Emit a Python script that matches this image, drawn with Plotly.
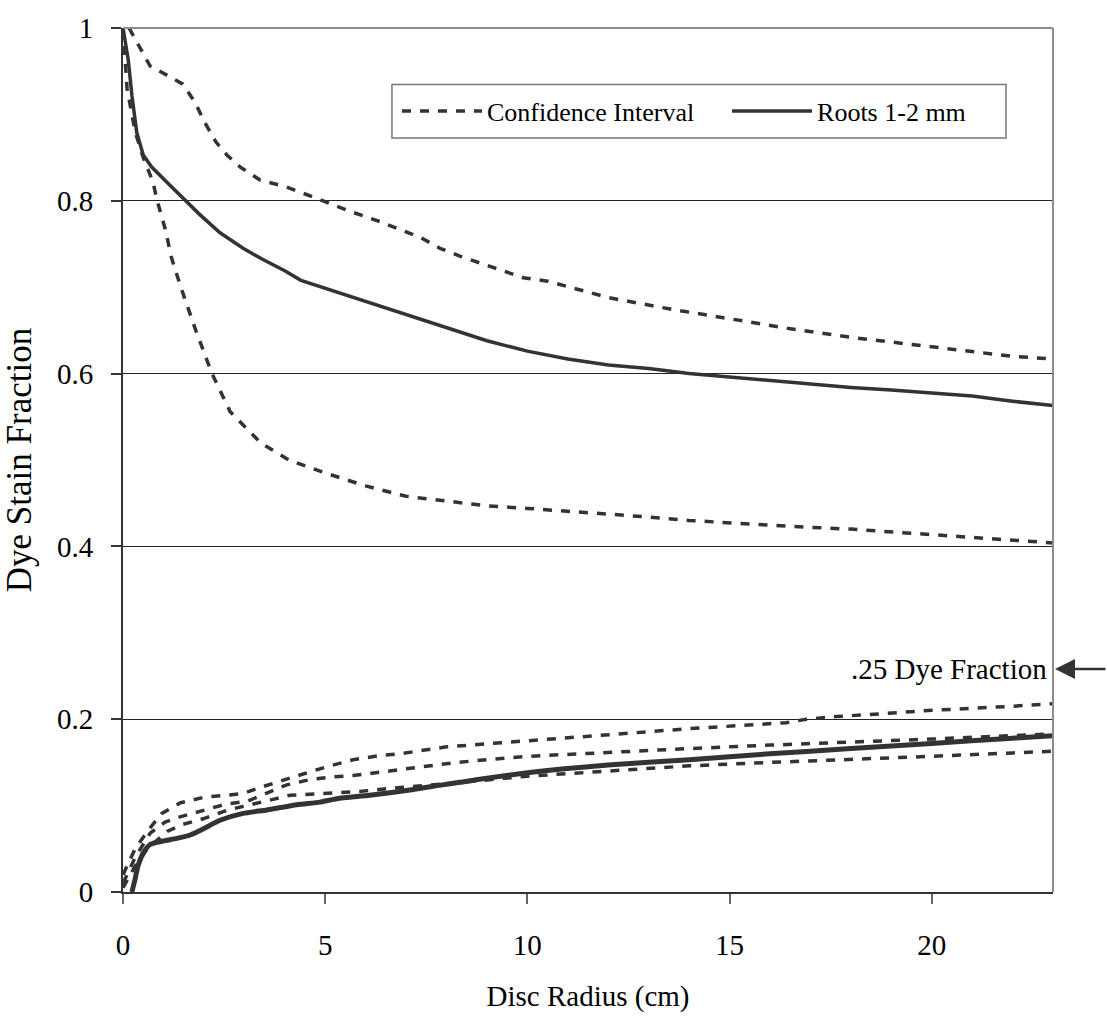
import plotly.graph_objects as go

# ---------------- data ----------------
# upper group (fraction decreasing from 1)
top_ci_hi_x = [0.15, 0.67, 1.1, 1.48, 1.78, 2.03, 2.3, 2.57, 2.9, 3.39, 4.05, 4.87, 5.6, 6.35, 6.85,
               7.38, 7.84, 8.33, 8.83, 9.4, 9.9, 10.5, 12, 13.5, 15, 16.5, 18, 19.5, 21, 22, 23]
top_ci_hi_y = [1.0, 0.956, 0.945, 0.935, 0.914, 0.89, 0.868, 0.853, 0.839, 0.824, 0.816, 0.801, 0.788,
               0.776, 0.767, 0.757, 0.745, 0.736, 0.728, 0.719, 0.711, 0.707, 0.688, 0.675, 0.663,
               0.652, 0.642, 0.634, 0.626, 0.62, 0.617]

top_mean_x = [0, 0.13, 0.22, 0.34, 0.5, 0.71, 1.16, 1.49, 1.9, 2.4, 2.97, 3.46, 4, 4.4, 5, 6, 7, 8,
              9, 10, 11, 12, 13, 14, 15, 16, 17, 18, 19, 20, 21, 22, 23]
top_mean_y = [1.0, 0.963, 0.922, 0.879, 0.853, 0.839, 0.818, 0.803, 0.784, 0.763, 0.745, 0.732, 0.719,
              0.708, 0.699, 0.684, 0.669, 0.653, 0.638, 0.626, 0.617, 0.61, 0.606, 0.6, 0.596, 0.592,
              0.588, 0.584, 0.581, 0.578, 0.574, 0.568, 0.563]

top_ci_lo_x = [0, 0.1, 0.3, 0.5, 0.74, 0.84, 1.04, 1.2, 1.43, 1.8, 2.2, 2.65, 3.4, 4.1, 5, 6, 7, 8,
               9, 10, 11, 12, 13, 14, 15, 16, 17, 18, 19, 20, 21, 22, 23]
top_ci_lo_y = [1.0, 0.93, 0.88, 0.85, 0.822, 0.801, 0.768, 0.734, 0.70, 0.65, 0.60, 0.556, 0.52, 0.50,
               0.485, 0.47, 0.458, 0.452, 0.447, 0.444, 0.441, 0.437, 0.434, 0.43, 0.427, 0.425,
               0.422, 0.42, 0.417, 0.414, 0.411, 0.408, 0.404]

# lower group (fraction increasing from 0)
low_a_x = [0, 0.3, 0.6, 0.96, 1.41, 2.03, 2.6, 2.97, 3.46, 4.05, 4.62, 5.12, 5.69, 6.35, 6.85, 7.42,
           8.0, 10, 12, 14, 16.4, 16.9, 17.65, 18.2, 19.3, 19.9, 20.9, 22, 23]
low_a_y = [0.02, 0.05, 0.07, 0.091, 0.103, 0.11, 0.112, 0.114, 0.122, 0.131, 0.139, 0.146, 0.153,
           0.158, 0.16, 0.164, 0.168, 0.175, 0.182, 0.189, 0.196, 0.2, 0.203, 0.205, 0.208, 0.21,
           0.212, 0.215, 0.218]

low_b_x = [0, 0.3, 0.67, 1.04, 1.41, 1.9, 2.57, 3.07, 4.05, 4.62, 5.12, 5.74, 6.77, 7.34, 7.9, 8.25,
           10, 12, 14, 16, 18, 20, 22, 23]
low_b_y = [0.01, 0.04, 0.068, 0.081, 0.087, 0.093, 0.102, 0.105, 0.124, 0.13, 0.133, 0.135, 0.141,
           0.145, 0.148, 0.15, 0.157, 0.162, 0.166, 0.17, 0.173, 0.177, 0.181, 0.183]

low_c_x = [0, 0.3, 0.6, 1.09, 1.46, 2.0, 2.6, 3.1, 3.6, 4.13, 5.04, 5.78, 6.85, 7.92, 10, 12, 14, 16,
           18, 20, 22, 23]
low_c_y = [0.005, 0.03, 0.05, 0.07, 0.078, 0.085, 0.095, 0.1, 0.106, 0.112, 0.114, 0.116, 0.121,
           0.125, 0.134, 0.14, 0.146, 0.15, 0.153, 0.157, 0.161, 0.163]

low_mean_x = [0.22, 0.3, 0.37, 0.5, 0.67, 0.99, 1.33, 1.66, 1.98, 2.4, 2.97, 3.56, 4.3, 4.87, 5.29,
              6.1, 7.1, 7.9, 8.33, 10, 12, 14, 16, 18, 20, 22, 23]
low_mean_y = [0.0, 0.015, 0.03, 0.045, 0.055, 0.059, 0.062, 0.066, 0.073, 0.083, 0.091, 0.095, 0.101,
              0.104, 0.108, 0.112, 0.118, 0.124, 0.127, 0.138, 0.147, 0.153, 0.16, 0.166, 0.172,
              0.178, 0.181]

x_ticks = [0, 5, 10, 15, 20]
y_ticks = [0, 0.2, 0.4, 0.6, 0.8, 1]
y_tick_text = ["0", "0.2", "0.4", "0.6", "0.8", "1"]

legend_ci = "Confidence Interval"
legend_mean = "Roots 1-2 mm"
x_title = "Disc Radius (cm)"
y_title = "Dye Stain Fraction"
note_text = ".25 Dye Fraction"
note_y = 0.258

# ---------------- figure ----------------
FONT = "Liberation Serif, Times New Roman, serif"
LINE = "#333333"
DASH = "9px,9px"

fig = go.Figure()

dashed = [(top_ci_hi_x, top_ci_hi_y), (top_ci_lo_x, top_ci_lo_y),
          (low_a_x, low_a_y), (low_b_x, low_b_y), (low_c_x, low_c_y)]
for i, (xs, ys) in enumerate(dashed):
    fig.add_trace(go.Scatter(x=xs, y=ys, mode="lines", name=legend_ci, legendgroup="ci",
                             showlegend=(i == 0), legend="legend",
                             line=dict(color=LINE, width=3.5, dash=DASH)))

fig.add_trace(go.Scatter(x=top_mean_x, y=top_mean_y, mode="lines", name=legend_mean,
                         legendgroup="mean", showlegend=True, legend="legend2",
                         line=dict(color=LINE, width=3.5)))
fig.add_trace(go.Scatter(x=low_mean_x, y=low_mean_y, mode="lines", name=legend_mean,
                         legendgroup="mean", showlegend=False, legend="legend2",
                         line=dict(color=LINE, width=5, shape="spline", smoothing=0.6)))

# top and right frame in grey
fig.add_shape(type="line", xref="paper", yref="paper", x0=0, x1=1, y0=1, y1=1,
              line=dict(color="#8c8c8c", width=2))
fig.add_shape(type="line", xref="paper", yref="paper", x0=1, x1=1, y0=0, y1=1,
              line=dict(color="#8c8c8c", width=2))
# legend frame
fig.add_shape(type="rect", xref="paper", yref="paper", x0=0.2892, x1=0.9495, y0=0.8727, y1=0.9346,
              line=dict(color="#777777", width=1.5), fillcolor="rgba(0,0,0,0)", layer="above")

fig.add_annotation(x=23, y=note_y, xref="x", yref="y", text=note_text, showarrow=False,
                   xanchor="right", yanchor="middle", xshift=-4,
                   font=dict(family=FONT, size=29, color="black"))
fig.add_annotation(x=23, y=note_y, xref="x", yref="y", text="", showarrow=True,
                   ax=58, ay=0, axref="pixel", ayref="pixel",
                   arrowhead=2, arrowsize=1.6, arrowwidth=2.5, arrowcolor="#333333", standoff=2)

legend_common = dict(orientation="h", yanchor="middle", y=0.9037, xanchor="left",
                     bgcolor="rgba(0,0,0,0)", borderwidth=0, itemwidth=80,
                     font=dict(family=FONT, size=26, color="black"))

fig.update_layout(
    width=1107, height=1019,
    margin=dict(l=123, r=54, t=25, b=122),
    paper_bgcolor="white", plot_bgcolor="white",
    font=dict(family=FONT, size=29, color="black"),
    showlegend=True,
    legend=dict(x=0.2946, **legend_common),
    legend2=dict(x=0.6495, **legend_common),
    xaxis=dict(range=[0, 23], tickvals=x_ticks, showgrid=False, zeroline=False,
               showline=True, linecolor="#333333", linewidth=2,
               ticks="outside", ticklen=10, tickwidth=1.5, tickcolor="#666666",
               ticklabelstandoff=16,
               title=dict(text=x_title, standoff=26, font=dict(family=FONT, size=29))),
    yaxis=dict(range=[0, 1], tickvals=y_ticks, ticktext=y_tick_text,
               showgrid=True, gridcolor="#222222", gridwidth=1, zeroline=False,
               showline=True, linecolor="#333333", linewidth=2,
               ticks="outside", ticklen=10, tickwidth=1.5, tickcolor="#333333",
               ticklabelstandoff=12,
               title=dict(text=y_title, standoff=18, font=dict(family=FONT, size=35))),
)

fig.write_html("out.html")
